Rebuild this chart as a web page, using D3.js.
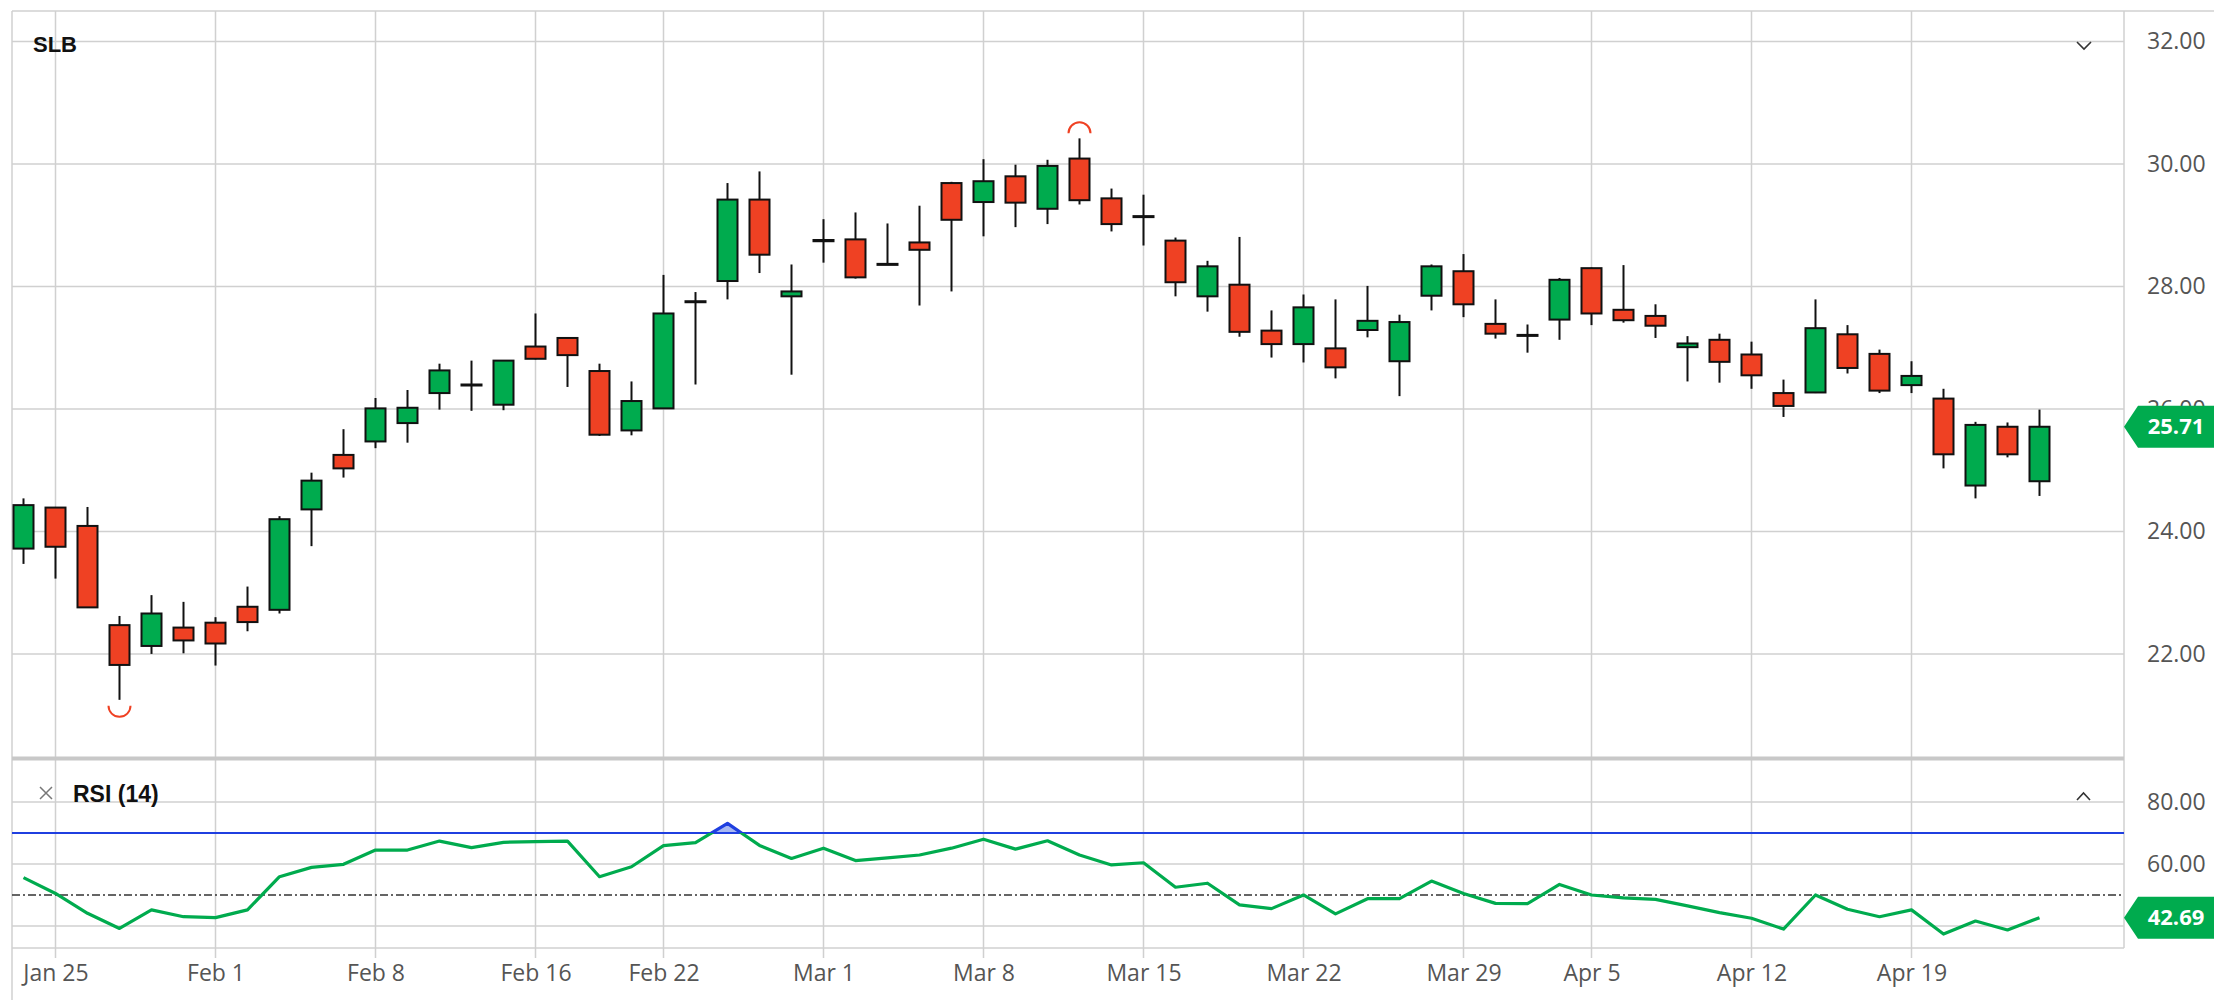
<!DOCTYPE html>
<html><head><meta charset="utf-8">
<script src="https://cdn.jsdelivr.net/npm/d3@7"></script>
<style>
html,body{margin:0;padding:0;background:#fff;}
svg{display:block;}
</style></head><body>
<svg id="chart" width="2231" height="1000"></svg>
<script>
const symbol = "SLB";
const indicatorName = "RSI (14)";
const dates = [
"2021-01-22","2021-01-25","2021-01-26","2021-01-27","2021-01-28","2021-01-29",
"2021-02-01","2021-02-02","2021-02-03","2021-02-04","2021-02-05",
"2021-02-08","2021-02-09","2021-02-10","2021-02-11","2021-02-12",
"2021-02-16","2021-02-17","2021-02-18","2021-02-19",
"2021-02-22","2021-02-23","2021-02-24","2021-02-25","2021-02-26",
"2021-03-01","2021-03-02","2021-03-03","2021-03-04","2021-03-05",
"2021-03-08","2021-03-09","2021-03-10","2021-03-11","2021-03-12",
"2021-03-15","2021-03-16","2021-03-17","2021-03-18","2021-03-19",
"2021-03-22","2021-03-23","2021-03-24","2021-03-25","2021-03-26",
"2021-03-29","2021-03-30","2021-03-31","2021-04-01",
"2021-04-05","2021-04-06","2021-04-07","2021-04-08","2021-04-09",
"2021-04-12","2021-04-13","2021-04-14","2021-04-15","2021-04-16",
"2021-04-19","2021-04-20","2021-04-21","2021-04-22","2021-04-23"];
const open = [23.72,24.39,24.09,22.47,22.13,22.43,22.51,22.77,22.72,24.36,25.25,25.47,25.77,26.26,26.40,26.07,
27.02,27.16,26.62,25.65,26.01,27.76,28.09,29.42,27.84,28.76,28.77,28.37,28.72,29.69,29.38,29.80,29.27,30.09,29.44,
29.15,28.75,27.84,28.03,27.28,27.06,26.99,27.29,26.78,27.85,28.25,27.39,27.21,27.46,28.30,27.62,27.52,27.01,27.13,
26.89,26.26,26.27,27.22,26.90,26.39,26.17,24.75,25.71,24.82];
const high = [24.54,24.40,24.40,22.62,22.96,22.85,22.60,23.10,24.25,24.96,25.67,26.18,26.31,26.74,26.79,26.80,
27.56,27.17,26.74,26.45,28.19,27.91,29.69,29.88,28.36,29.10,29.21,29.03,29.32,29.71,30.08,29.99,30.07,30.42,29.60,
29.50,28.80,28.42,28.81,27.61,27.87,27.79,28.01,27.54,28.36,28.53,27.79,27.38,28.14,28.31,28.35,27.71,27.19,27.23,
27.10,26.48,27.79,27.37,26.97,26.78,26.33,25.79,25.78,25.99];
const low = [23.47,23.23,22.76,21.25,22.00,22.01,21.81,22.37,22.66,23.76,24.88,25.36,25.45,25.99,25.97,25.98,
26.81,26.36,25.56,25.57,26.00,26.40,27.79,28.22,26.56,28.39,28.13,28.36,27.69,27.92,28.82,28.97,29.02,29.34,28.90,
28.67,27.84,27.59,27.18,26.84,26.76,26.50,27.17,26.21,27.61,27.50,27.15,26.92,27.13,27.37,27.41,27.16,26.45,26.43,
26.33,25.87,26.26,26.58,26.26,26.26,25.03,24.54,25.21,24.58];
const close = [24.43,23.75,22.76,21.82,22.66,22.22,22.17,22.52,24.20,24.83,25.03,26.01,26.02,26.63,26.40,26.79,
26.82,26.88,25.58,26.13,27.56,27.76,29.42,28.52,27.92,28.74,28.15,28.37,28.60,29.09,29.72,29.37,29.97,29.41,29.02,
29.15,28.07,28.33,27.26,27.06,27.66,26.68,27.44,27.42,28.33,27.71,27.23,27.21,28.11,27.56,27.45,27.36,27.07,26.77,
26.55,26.05,27.32,26.67,26.30,26.54,25.26,25.74,25.26,25.71];
const rsi = [55.6,50.5,44.1,39.2,45.2,43.0,42.7,45.2,55.9,58.9,59.9,64.5,64.5,67.4,65.3,67.0,67.2,67.4,55.9,59.1,
65.9,66.9,73.1,66.0,61.8,65.1,61.1,62.0,62.9,65.1,68.0,64.8,67.5,62.9,59.7,60.4,52.5,53.8,46.8,45.6,
50.0,43.9,48.8,48.8,54.5,50.5,47.3,47.2,53.4,50.0,49.1,48.6,46.5,44.3,42.5,39.0,50.0,45.4,43.0,45.2,
37.4,41.6,38.7,42.69];
const tickLabels = ["Jan 25","Feb 1","Feb 8","Feb 16","Feb 22","Mar 1","Mar 8","Mar 15","Mar 22","Mar 29","Apr 5","Apr 12","Apr 19"];
const priceTicks = [22,24,26,28,30,32];
const rsiGridTicks = [40,60,80];
const rsiLabelTicks = [60,80];
const rsiOverbought = 70;
const rsiMid = 50;

const C = {green:"#00ab4e", red:"#ef4123", grid:"#d0d0d0", text:"#555", blue:"#1f3fe0", blueFill:"#a8b8f2"};
const L = 12, R = 2124, TOP = 11, MAIN_B = 758, RSI_T = 760, RSI_B = 948;

const svg = d3.select("#chart");
svg.append("rect").attr("width",2231).attr("height",1000).attr("fill","#fff");

const x = d3.scaleLinear().domain([0, dates.length-1]).range([23.5, 2039.5]);
const y = d3.scaleLinear().domain([20.30, 32.50]).range([MAIN_B, TOP]);
const yr = d3.scaleLinear().domain([32.9, 93.55]).range([RSI_B, RSI_T]);

const parse = d3.timeParse("%Y-%m-%d");
const fmt = d3.timeFormat("%b %-d");
const tickIdx = tickLabels.map(t => dates.findIndex(d => fmt(parse(d)) === t));

// grid
const g = svg.append("g");
g.selectAll(".vg").data(tickIdx).join("line")
  .attr("x1", d=>x(d)).attr("x2", d=>x(d)).attr("y1", TOP).attr("y2", 958)
  .attr("stroke", C.grid).attr("stroke-width",1.5);
g.selectAll(".hg").data(priceTicks).join("line")
  .attr("x1", L).attr("x2", R).attr("y1", d=>y(d)).attr("y2", d=>y(d))
  .attr("stroke", C.grid).attr("stroke-width",1.5);
g.selectAll(".rg").data(rsiGridTicks).join("line")
  .attr("x1", L).attr("x2", R).attr("y1", d=>yr(d)).attr("y2", d=>yr(d))
  .attr("stroke", C.grid).attr("stroke-width",1.5);
// frame
g.append("line").attr("x1",L).attr("x2",2214).attr("y1",TOP).attr("y2",TOP).attr("stroke",C.grid).attr("stroke-width",1.5);
g.append("line").attr("x1",L).attr("x2",L).attr("y1",TOP).attr("y2",1000).attr("stroke",C.grid).attr("stroke-width",1.5);
g.append("line").attr("x1",R).attr("x2",R).attr("y1",TOP).attr("y2",RSI_B).attr("stroke",C.grid).attr("stroke-width",1.5);
g.append("line").attr("x1",L).attr("x2",R).attr("y1",MAIN_B+0.5).attr("y2",MAIN_B+0.5).attr("stroke","#c8c8c8").attr("stroke-width",4);
g.append("line").attr("x1",L).attr("x2",R).attr("y1",RSI_B).attr("y2",RSI_B).attr("stroke",C.grid).attr("stroke-width",1.5);

// candles
const idx = d3.range(dates.length);
const cg = svg.append("g");
cg.selectAll(".wick").data(idx).join("line")
  .attr("x1", i=>x(i)).attr("x2", i=>x(i))
  .attr("y1", i=>y(high[i])).attr("y2", i=>y(low[i]))
  .attr("stroke","#111").attr("stroke-width",2);
const bw = 20;
cg.selectAll(".body").data(idx).join("rect")
  .attr("x", i=>x(i)-bw/2).attr("width", bw)
  .attr("y", i=>y(Math.max(open[i],close[i])))
  .attr("height", i=>Math.max(1, Math.abs(y(open[i])-y(close[i]))))
  .attr("fill", i=> close[i]>open[i] ? C.green : close[i]<open[i] ? C.red : "#111")
  .attr("stroke","#111").attr("stroke-width",2);

// extreme markers
const minI = d3.minIndex(low), maxI = d3.maxIndex(high);
const pb = d3.path(); pb.arc(x(minI), y(low[minI])+6, 11, 0, Math.PI);
const pt = d3.path(); pt.arc(x(maxI), y(high[maxI])-5, 11, Math.PI, 2*Math.PI);
svg.append("path").attr("d", pb.toString()).attr("fill","none").attr("stroke",C.red).attr("stroke-width",2);
svg.append("path").attr("d", pt.toString()).attr("fill","none").attr("stroke",C.red).attr("stroke-width",2);

// RSI
const defs = svg.append("defs");
defs.append("clipPath").attr("id","above").append("rect")
  .attr("x",L).attr("width",R-L).attr("y",RSI_T).attr("height", yr(rsiOverbought)-RSI_T);
defs.append("clipPath").attr("id","below").append("rect")
  .attr("x",L).attr("width",R-L).attr("y",yr(rsiOverbought)).attr("height", RSI_B-yr(rsiOverbought));
const rsiLine = d3.line().x((d,i)=>x(i)).y(d=>yr(d));
const rsiArea = d3.area().x((d,i)=>x(i)).y0(yr(rsiOverbought)).y1(d=>yr(d));
svg.append("path").attr("d", rsiArea(rsi)).attr("fill", C.blueFill).attr("clip-path","url(#above)");
svg.append("line").attr("x1",L).attr("x2",R).attr("y1",yr(rsiOverbought)).attr("y2",yr(rsiOverbought))
  .attr("stroke",C.blue).attr("stroke-width",2);
svg.append("line").attr("x1",L).attr("x2",R).attr("y1",yr(rsiMid)).attr("y2",yr(rsiMid))
  .attr("stroke","#333").attr("stroke-width",1.5).attr("stroke-dasharray","8,3,2,3");
svg.append("path").attr("d", rsiLine(rsi)).attr("fill","none").attr("stroke",C.green)
  .attr("stroke-width",3.2).attr("stroke-linejoin","round").attr("clip-path","url(#below)");
svg.append("path").attr("d", rsiLine(rsi)).attr("fill","none").attr("stroke",C.blue)
  .attr("stroke-width",3.2).attr("stroke-linejoin","round").attr("clip-path","url(#above)");

// axes
const font = "'Open Sans', sans-serif";
const pa = svg.append("g").attr("transform","translate(2147,0)")
  .call(d3.axisRight(y).tickValues(priceTicks).tickFormat(d3.format(".2f")).tickSize(0).tickPadding(0));
const ra = svg.append("g").attr("transform","translate(2147,0)")
  .call(d3.axisRight(yr).tickValues(rsiLabelTicks).tickFormat(d3.format(".2f")).tickSize(0).tickPadding(0));
const xa = svg.append("g").attr("transform",`translate(0,958)`)
  .call(d3.axisBottom(x).tickValues(tickIdx).tickFormat((d,i)=>tickLabels[i]).tickSize(0).tickPadding(7));
[pa,ra,xa].forEach(a=>{
  a.select(".domain").remove();
  a.selectAll("text").attr("fill",C.text).style("font-family",font).style("font-size","23px");
});

// last value tags
function tag(yc, label){
  const h = 21;
  const pts = [[R, yc],[R+14, yc-h],[2214, yc-h],[2214, yc+h],[R+14, yc+h]];
  svg.append("path").attr("d", d3.line()(pts)+"Z").attr("fill", C.green);
  svg.append("text").attr("x", 2176).attr("y", yc).attr("dy","0.35em").attr("text-anchor","middle")
    .attr("fill","#fff").style("font-family",font).style("font-weight","700").style("font-size","22px").text(label);
}
tag(y(close[close.length-1]), d3.format(".2f")(close[close.length-1]));
tag(yr(rsi[rsi.length-1]), d3.format(".2f")(rsi[rsi.length-1]));

// titles and icons
svg.append("text").attr("x",33).attr("y",52).attr("fill","#111")
  .style("font-family","'Liberation Sans', Arial, sans-serif").style("font-weight","700").style("font-size","22px").text(symbol);
svg.append("text").attr("x",73).attr("y",802).attr("fill","#111")
  .style("font-family","'Liberation Sans', Arial, sans-serif").style("font-weight","700").style("font-size","23px").text(indicatorName);
svg.append("path").attr("d","M40,787L52,799M52,787L40,799").attr("stroke","#777").attr("stroke-width",1.5).attr("fill","none");
svg.append("path").attr("d","M2077,42L2084,49L2091,42").attr("stroke","#333").attr("stroke-width",1.6).attr("fill","none");
svg.append("path").attr("d","M2077,800L2083.5,793L2090,800").attr("stroke","#333").attr("stroke-width",1.6).attr("fill","none");
</script>
</body></html>
